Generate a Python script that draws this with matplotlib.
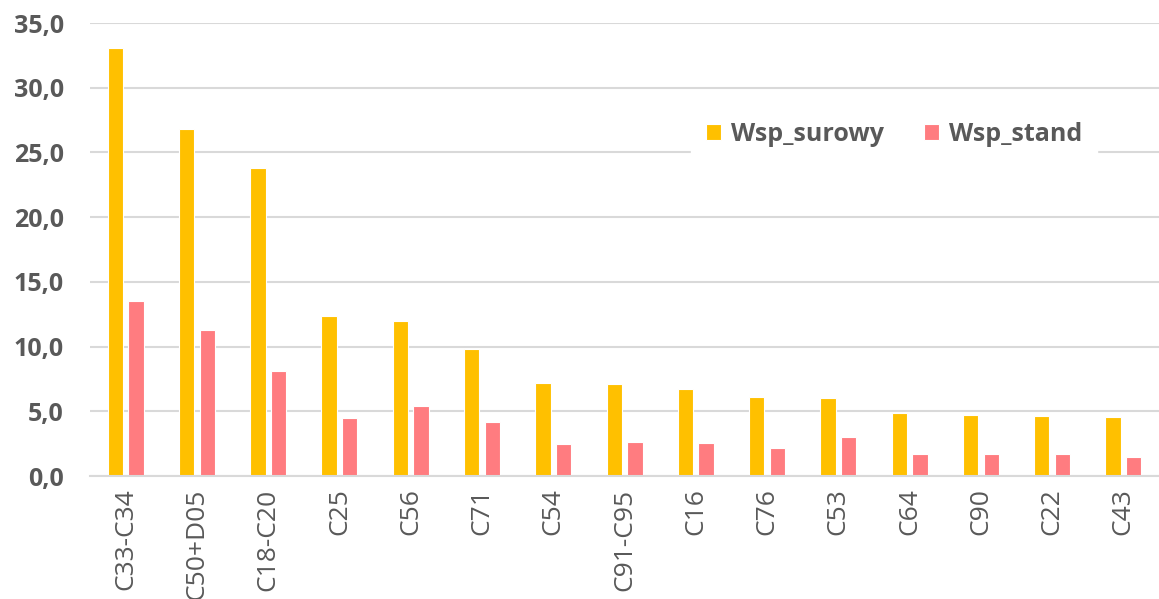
# Wsp_surowy vs Wsp_stand by cancer site (ICD-10)
# Grouped vertical bar chart

import numpy as np
import matplotlib.pyplot as plt

# Data
sites = ["C33-C34", "C50+D05", "C18-C20", "C25", "C56", "C71", "C54", "C91-C95",
         "C16", "C76", "C53", "C64", "C90", "C22", "C43"]
wsp_surowy = [33.1, 26.8, 23.8, 12.4, 12.0, 9.8, 7.2, 7.1, 6.7, 6.1, 6.0, 4.85, 4.75, 4.65, 4.55]
wsp_stand = [13.5, 11.3, 8.1, 4.5, 5.4, 4.2, 2.45, 2.65, 2.55, 2.15, 3.05, 1.7, 1.7, 1.7, 1.45]
yticks = [0, 5, 10, 15, 20, 25, 30, 35]

plt.rcParams['font.family'] = ['Open Sans', 'DejaVu Sans']
text_grey = "#595959"

fig = plt.figure(figsize=(11.59, 5.99), dpi=100)
ax = fig.add_axes([0.0777, 0.2053, 0.9223, 0.7563])

x = np.arange(len(sites))
w = 0.215
ax.bar(x - 0.145, wsp_surowy, width=w, color="#FFC000", edgecolor="white", linewidth=0.8,
       label="Wsp_surowy", zorder=3)
ax.bar(x + 0.145, wsp_stand, width=w, color="#FF7C80", edgecolor="white", linewidth=0.8,
       label="Wsp_stand", zorder=3)

# Axes limits and grid
ax.set_xlim(-0.5, len(sites) - 0.5)
ax.set_ylim(0, 35)
ax.set_yticks(yticks)
ax.set_yticklabels([f"{v:.1f}".replace(".", ",") for v in yticks],
                   fontsize=18, fontweight="bold", color=text_grey)
ax.set_xticks(x)
ax.set_xticklabels(sites, rotation=90, fontsize=19, color=text_grey, va="top")
ax.tick_params(axis="y", length=0, pad=19)
ax.tick_params(axis="x", length=0, pad=9)
ax.grid(axis="y", color="#D9D9D9", linewidth=1.5, zorder=0)
for side in ["top", "right", "left"]:
    ax.spines[side].set_visible(False)
ax.spines["bottom"].set_color("#D9D9D9")
ax.spines["bottom"].set_linewidth(1.5)
ax.spines["bottom"].set_zorder(4)

# Legend
leg = ax.legend(loc=(0.562, 0.694), ncol=2, fontsize=18, frameon=True, fancybox=False,
                handlelength=0.6, handleheight=0.6, handletextpad=0.4, columnspacing=1.6,
                borderpad=0.6)
leg.get_frame().set_edgecolor("white")
leg.get_frame().set_facecolor("white")
leg.get_frame().set_alpha(1)
for t in leg.get_texts():
    t.set_color(text_grey)
    t.set_fontweight("bold")

plt.savefig("out.png", dpi=100)
